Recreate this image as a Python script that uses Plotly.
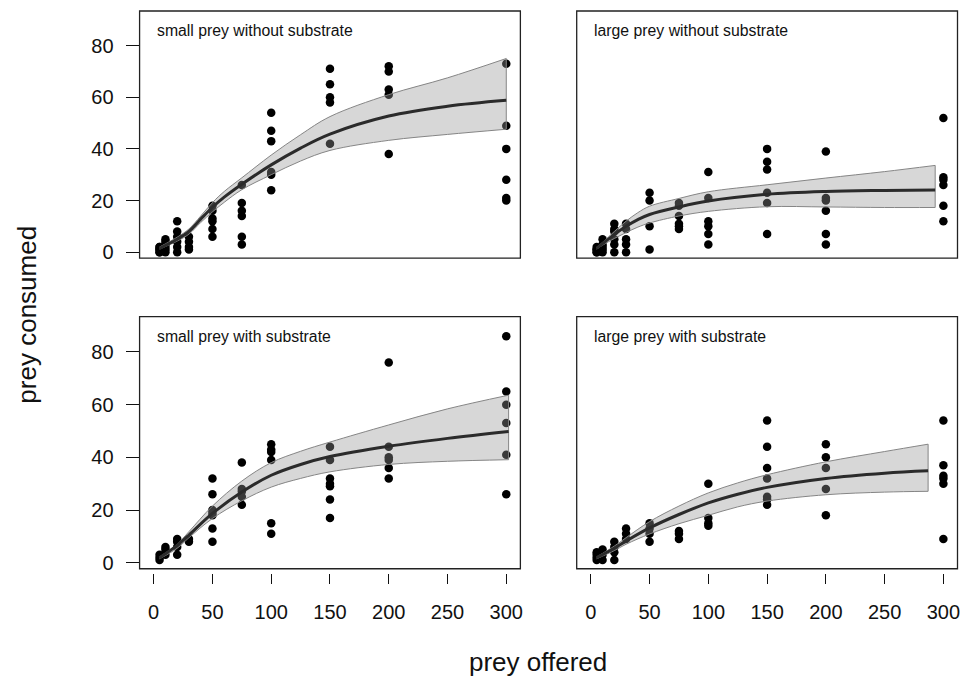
import plotly.graph_objects as go

# ---------------- data ----------------
densities = [5, 10, 20, 30, 50, 75, 100, 150, 200, 300]

# observed prey consumed, per density (one list per density)
tl_obs = [[0, 0, 1, 1, 2, 2], [0, 1, 2, 3, 4, 5], [0, 2, 4, 6, 8, 12], [1, 2, 4, 6],
          [6, 9, 12, 13, 16, 18], [3, 6, 14, 16, 19, 26], [24, 30, 31, 43, 47, 54],
          [42, 58, 60, 65, 71], [38, 61, 63, 70, 72], [20, 21, 28, 40, 49, 73]]
tr_obs = [[0, 0, 1, 1, 2], [0, 1, 2, 3, 5], [0, 3, 5, 8, 9, 11], [0, 3, 5, 9, 11],
          [1, 10, 20, 23], [9, 10, 11, 14, 18, 19], [3, 7, 10, 12, 21, 31],
          [7, 19, 23, 32, 35, 40], [3, 7, 16, 20, 21, 39], [12, 18, 26, 28, 29, 52]]
bl_obs = [[1, 2, 3], [3, 5, 6], [3, 6, 8, 9], [8, 9],
          [8, 13, 18, 19, 20, 26, 32], [22, 25, 27, 28, 38], [11, 15, 39, 42, 43, 45],
          [17, 24, 29, 30, 32, 39, 44], [32, 36, 39, 40, 44, 76], [26, 41, 53, 60, 65, 86]]
br_obs = [[1, 2, 3, 4], [1, 3, 5], [1, 4, 6, 8], [9, 11, 13],
          [8, 11, 13, 15], [9, 11, 12], [14, 15, 17, 30],
          [22, 24, 25, 32, 36, 44, 54], [18, 28, 36, 40, 45], [9, 30, 32, 33, 37, 54]]

# fitted curves and confidence bands
tl_fx = [5, 20, 30, 40, 50, 60, 75, 100, 125, 150, 200, 250, 300]
tl_fit = [1.5, 5.0, 8.0, 12.8, 17.4, 21.3, 26.3, 33.8, 40.3, 45.7, 52.7, 56.5, 58.8]
tl_up = [2.0, 5.8, 9.0, 14.0, 19.2, 23.5, 28.8, 37.6, 45.5, 52.5, 61.0, 67.5, 75.0]
tl_lo = [1.2, 4.3, 7.0, 11.5, 15.6, 19.3, 24.2, 30.0, 35.3, 39.4, 43.3, 45.6, 47.6]

tr_fx = [5, 10, 20, 30, 40, 50, 75, 100, 150, 200, 250, 293]
tr_fit = [1.5, 3.3, 6.8, 10.0, 12.6, 14.6, 17.5, 19.8, 22.4, 23.5, 23.9, 24.1]
tr_up = [1.8, 3.8, 8.0, 12.0, 15.3, 17.8, 20.8, 23.4, 26.1, 28.7, 31.2, 33.6]
tr_lo = [1.2, 2.7, 5.3, 7.6, 9.7, 11.3, 14.0, 15.8, 17.6, 17.5, 17.3, 17.3]

bl_fx = [5, 20, 30, 50, 75, 100, 125, 150, 200, 250, 302]
bl_fit = [1.9, 6.6, 10.5, 18.7, 26.8, 33.2, 37.3, 40.3, 44.2, 47.2, 49.8]
bl_up = [2.2, 7.0, 11.8, 21.5, 31.0, 38.0, 42.3, 45.8, 52.3, 58.4, 63.6]
bl_lo = [1.5, 5.5, 9.5, 16.8, 23.5, 28.7, 32.0, 34.5, 37.3, 38.5, 39.1]

br_fx = [5, 20, 30, 50, 75, 100, 125, 150, 200, 250, 287]
br_fit = [1.9, 5.5, 8.2, 13.2, 18.3, 22.7, 26.0, 28.6, 32.0, 34.0, 34.9]
br_up = [2.2, 6.3, 9.5, 15.6, 21.5, 26.5, 30.3, 33.4, 38.3, 42.2, 45.0]
br_lo = [1.5, 4.6, 7.0, 10.9, 14.8, 18.0, 21.2, 23.4, 25.8, 26.8, 27.1]

panel_titles = ["small prey without substrate", "large prey without substrate",
                "small prey with substrate", "large prey with substrate"]
x_ticks = [0, 50, 100, 150, 200, 250, 300]
y_ticks = [0, 20, 40, 60, 80]

# ---------------- figure ----------------
OFF = 8                      # default page body margin
W, H = 969 - 2 * OFF, 684 - 2 * OFF
FONT = "Liberation Sans, Arial, Helvetica, sans-serif"


def px_x(x):
    return (x - OFF) / W


def px_y(y):
    return 1 - (y - OFF) / H


fig = go.Figure()

panels = [
    (tl_obs, tl_fx, tl_fit, tl_up, tl_lo, "x", "y"),
    (tr_obs, tr_fx, tr_fit, tr_up, tr_lo, "x2", "y2"),
    (bl_obs, bl_fx, bl_fit, bl_up, bl_lo, "x3", "y3"),
    (br_obs, br_fx, br_fit, br_up, br_lo, "x4", "y4"),
]

for obs, fx, fit, up, lo, xa, ya in panels:
    px, py = [], []
    for d, vals in zip(densities, obs):
        px += [d] * len(vals)
        py += vals
    fig.add_trace(go.Scatter(x=px, y=py, mode="markers", xaxis=xa, yaxis=ya,
                             marker=dict(size=8.5, color="black"),
                             showlegend=False, hoverinfo="skip"))
    fig.add_trace(go.Scatter(x=fx, y=lo, mode="lines", xaxis=xa, yaxis=ya,
                             line=dict(color="#858585", width=1, shape="spline"),
                             showlegend=False, hoverinfo="skip"))
    fig.add_trace(go.Scatter(x=fx, y=up, mode="lines", xaxis=xa, yaxis=ya,
                             fill="tonexty", fillcolor="rgba(150,150,150,0.38)",
                             line=dict(color="#858585", width=1, shape="spline"),
                             showlegend=False, hoverinfo="skip"))
    fig.add_trace(go.Scatter(x=[fx[-1], fx[-1]], y=[lo[-1], up[-1]], mode="lines",
                             xaxis=xa, yaxis=ya,
                             line=dict(color="#858585", width=1),
                             showlegend=False, hoverinfo="skip"))
    fig.add_trace(go.Scatter(x=fx, y=fit, mode="lines", xaxis=xa, yaxis=ya,
                             line=dict(color="#2b2b2b", width=3, shape="spline"),
                             showlegend=False, hoverinfo="skip"))

xl = [px_x(140), px_x(522)]
xr = [px_x(578.5), px_x(960.5)]
yt = [px_y(260), px_y(11)]
yb = [px_y(573), px_y(319)]
XR = [-12, 312]
YR = [-2.3, 93.4]

tickfont = dict(family=FONT, size=20, color="#111")


def xax(dom, bottom, anchor):
    d = dict(domain=dom, range=XR, showgrid=False, zeroline=False, showline=False,
             fixedrange=True)
    if bottom:
        d.update(anchor="free", position=px_y(577), ticks="outside", ticklen=10,
                 tickwidth=1, tickcolor="#111", tickvals=x_ticks,
                 tickfont=tickfont, ticklabelstandoff=11)
    else:
        d.update(anchor=anchor, showticklabels=False, ticks="")
    return d


def yax(dom, left, anchor):
    d = dict(domain=dom, range=YR, showgrid=False, zeroline=False, showline=False,
             anchor=anchor, fixedrange=True)
    if left:
        d.update(ticks="outside", ticklen=13, tickwidth=1, tickcolor="#111",
                 tickvals=y_ticks, tickfont=tickfont, ticklabelstandoff=8)
    else:
        d.update(showticklabels=False, ticks="")
    return d


fig.update_layout(
    width=W, height=H,
    margin=dict(l=0, r=0, t=0, b=0),
    paper_bgcolor="white", plot_bgcolor="white",
    xaxis=xax(xl, False, "y"), yaxis=yax(yt, True, "x"),
    xaxis2=xax(xr, False, "y2"), yaxis2=yax(yt, False, "x2"),
    xaxis3=xax(xl, True, "y3"), yaxis3=yax(yb, True, "x3"),
    xaxis4=xax(xr, True, "y4"), yaxis4=yax(yb, False, "x4"),
)

shapes = []
annotations = []
for i, (xa, ya) in enumerate([("x", "y"), ("x2", "y2"), ("x3", "y3"), ("x4", "y4")]):
    shapes.append(dict(type="rect", xref=f"{xa} domain", yref=f"{ya} domain",
                       x0=0, x1=1, y0=0, y1=1, line=dict(color="#222", width=1.3),
                       layer="above"))
    annotations.append(dict(text=panel_titles[i], xref=f"{xa} domain", yref=f"{ya} domain",
                            x=0.04, y=0.92, xanchor="left", yanchor="middle",
                            showarrow=False, font=dict(family=FONT, size=15.8, color="#111")))

annotations.append(dict(text="prey consumed", xref="paper", yref="paper",
                        x=px_x(27), y=px_y(317), xanchor="center", yanchor="middle",
                        textangle=-90, showarrow=False,
                        font=dict(family=FONT, size=26, color="#111")))
annotations.append(dict(text="prey offered", xref="paper", yref="paper",
                        x=px_x(540), y=px_y(667), xanchor="center", yanchor="middle",
                        showarrow=False, font=dict(family=FONT, size=26, color="#111")))

fig.update_layout(shapes=shapes, annotations=annotations)
fig.write_html("out.html")
